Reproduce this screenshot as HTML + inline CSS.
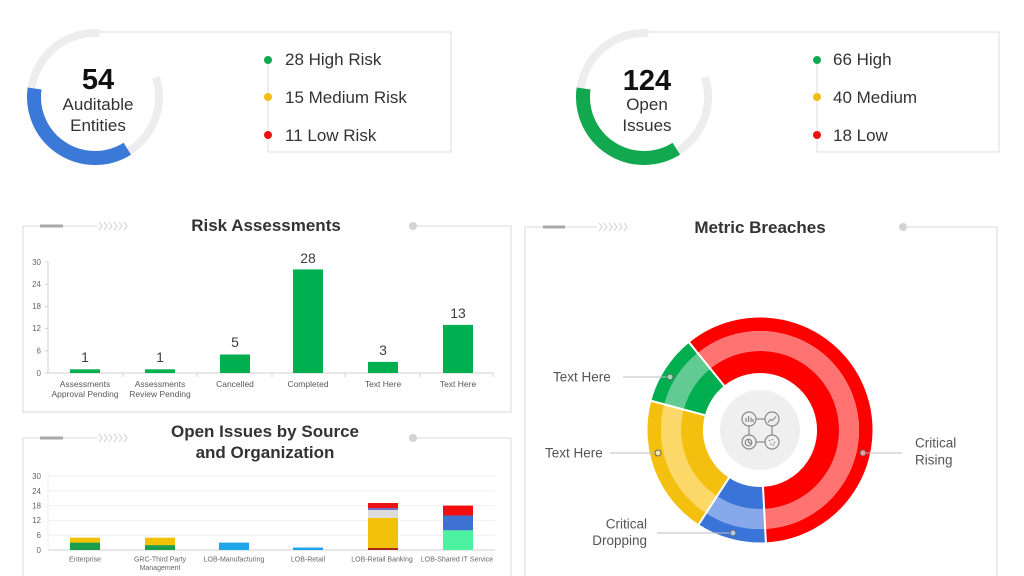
<!DOCTYPE html>
<html>
<head>
<meta charset="utf-8">
<style>
html,body{margin:0;padding:0;background:#fff;}
svg{display:block;font-family:"Liberation Sans",Arial,sans-serif;}
</style>
</head>
<body>
<svg width="1024" height="576" viewBox="0 0 1024 576" xmlns="http://www.w3.org/2000/svg">
<rect width="1024" height="576" fill="#fff"/>

<!-- ===== Gauge 1 ===== -->
<path d="M155.87 77.22 A64 64 0 1 1 99.47 33.15" fill="none" stroke="#ededed" stroke-width="8"/>
<path d="M127.32 148.73 A61 61 0 0 1 34.59 88.51" fill="none" stroke="#3b79d8" stroke-width="14"/>
<polyline points="99.5,32 451,32 451,152 268,152 268,60" fill="none" stroke="#dcdcdc" stroke-width="1"/>
<text x="98" y="89" text-anchor="middle" font-size="29" font-weight="bold" fill="#111">54</text>
<text x="98" y="110" text-anchor="middle" font-size="17" fill="#333">Auditable</text>
<text x="98" y="131" text-anchor="middle" font-size="17" fill="#333">Entities</text>
<circle cx="268" cy="60" r="4" fill="#12a84f"/>
<circle cx="268" cy="97" r="4" fill="#f5bd12"/>
<circle cx="268" cy="135" r="4" fill="#ee1111"/>
<text x="285" y="65" font-size="17" fill="#333">28 High Risk</text>
<text x="285" y="103" font-size="17" fill="#333">15 Medium Risk</text>
<text x="285" y="141" font-size="17" fill="#333">11 Low Risk</text>

<!-- ===== Gauge 2 ===== -->
<path d="M704.87 77.22 A64 64 0 1 1 648.47 33.15" fill="none" stroke="#ededed" stroke-width="8"/>
<path d="M676.32 148.73 A61 61 0 0 1 583.59 88.51" fill="none" stroke="#12a84f" stroke-width="14"/>
<polyline points="648.5,32 999,32 999,152 817,152 817,60" fill="none" stroke="#dcdcdc" stroke-width="1"/>
<text x="647" y="90" text-anchor="middle" font-size="29" font-weight="bold" fill="#111">124</text>
<text x="647" y="110" text-anchor="middle" font-size="17" fill="#333">Open</text>
<text x="647" y="131" text-anchor="middle" font-size="17" fill="#333">Issues</text>
<circle cx="817" cy="60" r="4" fill="#12a84f"/>
<circle cx="817" cy="97" r="4" fill="#f5bd12"/>
<circle cx="817" cy="135" r="4" fill="#ee1111"/>
<text x="833" y="65" font-size="17" fill="#333">66 High</text>
<text x="833" y="103" font-size="17" fill="#333">40 Medium</text>
<text x="833" y="141" font-size="17" fill="#333">18 Low</text>

<!-- ===== Panel 1: Risk Assessments ===== -->
<g stroke="#d9d9d9" fill="none" stroke-width="1">
  <polyline points="97,226 23,226 23,412 511,412 511,226 413,226"/>
</g>
<line x1="40" y1="226" x2="63" y2="226" stroke="#a9a9a9" stroke-width="3"/>
<g stroke="#cfcfcf" fill="none" stroke-width="1">
  <polyline points="99,222 102,226 99,230"/>
  <polyline points="104,222 107,226 104,230"/>
  <polyline points="109,222 112,226 109,230"/>
  <polyline points="114,222 117,226 114,230"/>
  <polyline points="119,222 122,226 119,230"/>
  <polyline points="124,222 127,226 124,230"/>
</g>
<circle cx="413" cy="226" r="4" fill="#d4d4d4"/>
<text x="266" y="231" text-anchor="middle" font-size="17" font-weight="bold" fill="#333">Risk Assessments</text>

<!-- axes chart1 -->
<g stroke="#d0d0d0" stroke-width="1">
  <line x1="48" y1="262" x2="48" y2="373"/>
  <line x1="48" y1="373" x2="493" y2="373"/>
  <line x1="45" y1="262" x2="48" y2="262"/>
  <line x1="45" y1="284.2" x2="48" y2="284.2"/>
  <line x1="45" y1="306.4" x2="48" y2="306.4"/>
  <line x1="45" y1="328.6" x2="48" y2="328.6"/>
  <line x1="45" y1="350.8" x2="48" y2="350.8"/>
  <line x1="45" y1="373" x2="48" y2="373"/>
  <line x1="123" y1="373" x2="123" y2="377"/>
  <line x1="197" y1="373" x2="197" y2="377"/>
  <line x1="272" y1="373" x2="272" y2="377"/>
  <line x1="345" y1="373" x2="345" y2="377"/>
  <line x1="420" y1="373" x2="420" y2="377"/>
  <line x1="493" y1="373" x2="493" y2="377"/>
</g>
<g font-size="8" fill="#666" text-anchor="end">
  <text x="41" y="265">30</text>
  <text x="41" y="287">24</text>
  <text x="41" y="309">18</text>
  <text x="41" y="331">12</text>
  <text x="41" y="353.5">6</text>
  <text x="41" y="376">0</text>
</g>
<g fill="#00b050">
  <rect x="70" y="369.3" width="30" height="3.7"/>
  <rect x="145" y="369.3" width="30" height="3.7"/>
  <rect x="220" y="354.5" width="30" height="18.5"/>
  <rect x="293" y="269.4" width="30" height="103.6"/>
  <rect x="368" y="361.9" width="30" height="11.1"/>
  <rect x="443" y="324.9" width="30" height="48.1"/>
</g>
<g font-size="14" fill="#404040" text-anchor="middle">
  <text x="85" y="362">1</text>
  <text x="160" y="362">1</text>
  <text x="235" y="347">5</text>
  <text x="308" y="263">28</text>
  <text x="383" y="355">3</text>
  <text x="458" y="318">13</text>
</g>
<g font-size="8.5" fill="#595959" text-anchor="middle">
  <text x="85" y="387">Assessments</text>
  <text x="85" y="397">Approval Pending</text>
  <text x="160" y="387">Assessments</text>
  <text x="160" y="397">Review Pending</text>
  <text x="235" y="387">Cancelled</text>
  <text x="308" y="387">Completed</text>
  <text x="383" y="387">Text Here</text>
  <text x="458" y="387">Text Here</text>
</g>

<!-- ===== Panel 2: Open Issues ===== -->
<g stroke="#d9d9d9" fill="none" stroke-width="1">
  <polyline points="97,438 23,438 23,576"/>
  <polyline points="413,438 511,438 511,576"/>
</g>
<line x1="40" y1="438" x2="63" y2="438" stroke="#a9a9a9" stroke-width="3"/>
<g stroke="#cfcfcf" fill="none" stroke-width="1">
  <polyline points="99,434 102,438 99,442"/>
  <polyline points="104,434 107,438 104,442"/>
  <polyline points="109,434 112,438 109,442"/>
  <polyline points="114,434 117,438 114,442"/>
  <polyline points="119,434 122,438 119,442"/>
  <polyline points="124,434 127,438 124,442"/>
</g>
<circle cx="413" cy="438" r="4" fill="#d4d4d4"/>
<text x="265" y="437" text-anchor="middle" font-size="17" font-weight="bold" fill="#333">Open Issues by Source</text>
<text x="265" y="458" text-anchor="middle" font-size="17" font-weight="bold" fill="#333">and Organization</text>

<g stroke="#efefef" stroke-width="1">
  <line x1="48" y1="476" x2="495" y2="476"/>
  <line x1="48" y1="490.8" x2="495" y2="490.8"/>
  <line x1="48" y1="505.6" x2="495" y2="505.6"/>
  <line x1="48" y1="520.4" x2="495" y2="520.4"/>
  <line x1="48" y1="535.2" x2="495" y2="535.2"/>
  <line x1="48" y1="476" x2="48" y2="550"/>
</g>
<line x1="48" y1="550" x2="495" y2="550" stroke="#d0d0d0" stroke-width="1"/>
<g font-size="8" fill="#666" text-anchor="end">
  <text x="41" y="479">30</text>
  <text x="41" y="494">24</text>
  <text x="41" y="508.5">18</text>
  <text x="41" y="523">12</text>
  <text x="41" y="538">6</text>
  <text x="41" y="553">0</text>
</g>
<!-- Enterprise -->
<rect x="70" y="542.6" width="30" height="7.4" fill="#1a9e4b"/>
<rect x="70" y="537.7" width="30" height="4.9" fill="#f2c200"/>
<!-- GRC -->
<rect x="145" y="545.1" width="30" height="4.9" fill="#1a9e4b"/>
<rect x="145" y="537.7" width="30" height="7.4" fill="#f2c200"/>
<!-- Manufacturing -->
<rect x="219" y="542.6" width="30" height="7.4" fill="#1ea5ea"/>
<!-- Retail -->
<rect x="293" y="547.5" width="30" height="2.5" fill="#1ea5ea"/>
<!-- Retail Banking -->
<rect x="368" y="548" width="30" height="2" fill="#a52a1a"/>
<rect x="368" y="518" width="30" height="30" fill="#f3c10a"/>
<rect x="368" y="510" width="30" height="8" fill="#dcdcdc"/>
<rect x="368" y="508" width="30" height="2" fill="#6f6fc6"/>
<rect x="368" y="503" width="30" height="5" fill="#ee1111"/>
<!-- Shared IT -->
<rect x="443" y="530.3" width="30" height="19.7" fill="#4df2a0"/>
<rect x="443" y="515.5" width="30" height="14.8" fill="#3e72d2"/>
<rect x="443" y="505.6" width="30" height="9.9" fill="#f20e0e"/>
<g font-size="7" fill="#666" text-anchor="middle">
  <text x="85" y="561.5">Enterprise</text>
  <text x="160" y="561.5">GRC-Third Party</text>
  <text x="160" y="570">Management</text>
  <text x="234" y="561.5">LOB-Manufacturing</text>
  <text x="308" y="561.5">LOB-Retail</text>
  <text x="382" y="561.5">LOB-Retail Banking</text>
  <text x="457" y="561.5">LOB-Shared IT Service</text>
</g>

<!-- ===== Panel 3: Metric Breaches ===== -->
<g stroke="#d9d9d9" fill="none" stroke-width="1">
  <polyline points="597,227 525,227 525,576"/>
  <polyline points="903,227 997,227 997,576"/>
</g>
<line x1="543" y1="227" x2="565" y2="227" stroke="#a9a9a9" stroke-width="3"/>
<g stroke="#cfcfcf" fill="none" stroke-width="1">
  <polyline points="599,223 602,227 599,231"/>
  <polyline points="604,223 607,227 604,231"/>
  <polyline points="609,223 612,227 609,231"/>
  <polyline points="614,223 617,227 614,231"/>
  <polyline points="619,223 622,227 619,231"/>
  <polyline points="624,223 627,227 624,231"/>
</g>
<circle cx="903" cy="227" r="4" fill="#d4d4d4"/>
<text x="760" y="233" text-anchor="middle" font-size="17" font-weight="bold" fill="#333">Metric Breaches</text>

<!-- donut -->
<g fill="none">
  <!-- red -->
  <path d="M693.45 347.82 A105.75 105.75 0 1 1 765.53 535.61" stroke="#fe0000" stroke-width="13.5"/>
  <path d="M703.99 360.84 A89 89 0 1 1 764.65 518.88" stroke="#ff7373" stroke-width="20"/>
  <path d="M717.21 377.16 A68 68 0 1 1 763.56 497.90" stroke="#fe0000" stroke-width="22"/>
  <!-- blue -->
  <path d="M765.53 535.61 A105.75 105.75 0 0 1 702.41 518.69" stroke="#3a74d8" stroke-width="13.5"/>
  <path d="M764.65 518.88 A89 89 0 0 1 711.53 504.64" stroke="#88a9e9" stroke-width="20"/>
  <path d="M763.56 497.90 A68 68 0 0 1 722.97 487.03" stroke="#3a74d8" stroke-width="22"/>
  <!-- yellow -->
  <path d="M702.41 518.69 A105.75 105.75 0 0 1 657.86 402.63" stroke="#f4c010" stroke-width="13.5"/>
  <path d="M711.53 504.64 A89 89 0 0 1 674.03 406.97" stroke="#fbd868" stroke-width="20"/>
  <path d="M722.97 487.03 A68 68 0 0 1 694.32 412.40" stroke="#f4c010" stroke-width="22"/>
  <!-- green -->
  <path d="M657.86 402.63 A105.75 105.75 0 0 1 693.45 347.82" stroke="#00ae4f" stroke-width="13.5"/>
  <path d="M674.03 406.97 A89 89 0 0 1 703.99 360.84" stroke="#62ca93" stroke-width="20"/>
  <path d="M694.32 412.40 A68 68 0 0 1 717.21 377.16" stroke="#00ae4f" stroke-width="22"/>
</g>
<g stroke="#fff" stroke-width="2">
  <line x1="724.76" y1="386.48" x2="688.89" y2="342.19"/>
  <line x1="762.93" y1="485.92" x2="765.91" y2="542.84"/>
  <line x1="729.50" y1="476.97" x2="698.46" y2="524.77"/>
  <line x1="705.91" y1="415.51" x2="650.85" y2="400.76"/>
</g>
<circle cx="760" cy="430" r="40" fill="#efefef"/>

<!-- icon -->
<g stroke="#8a8a8a" stroke-width="1.2" fill="none">
  <circle cx="749" cy="419" r="7"/>
  <circle cx="772" cy="419" r="7"/>
  <circle cx="749" cy="442" r="7"/>
  <circle cx="772" cy="442" r="7"/>
  <line x1="756" y1="419" x2="765" y2="419"/>
  <line x1="756" y1="442" x2="765" y2="442"/>
  <line x1="749" y1="426" x2="749" y2="435"/>
  <line x1="772" y1="426" x2="772" y2="435"/>
  <line x1="746" y1="422" x2="746" y2="418"/>
  <line x1="748.5" y1="422" x2="748.5" y2="416"/>
  <line x1="751" y1="422" x2="751" y2="417.5"/>
  <line x1="753" y1="422" x2="753" y2="419"/>
  <polyline points="768,422.5 770.5,419.5 772.5,420.5 776,416.5"/>
  <circle cx="748.5" cy="442.5" r="3.3"/>
  <path d="M748.5 442.5 L748.5 439.2 M748.5 442.5 L751.5 443.5"/>
</g>
<g fill="#8a8a8a">
  <circle cx="769.5" cy="440.5" r="0.8"/>
  <circle cx="772.5" cy="439.5" r="0.8"/>
  <circle cx="774.5" cy="442.5" r="0.8"/>
  <circle cx="771" cy="444" r="0.8"/>
  <circle cx="773.5" cy="445" r="0.8"/>
</g>

<!-- connectors & labels -->
<g stroke="#bdbdbd" stroke-width="1">
  <line x1="623" y1="377" x2="667" y2="377"/>
  <line x1="610" y1="453" x2="655" y2="453"/>
  <line x1="657" y1="533" x2="730" y2="533"/>
  <line x1="866" y1="453" x2="902" y2="453"/>
</g>
<g stroke="#666" stroke-width="1" fill="#fff" fill-opacity="0.6">
  <circle cx="670" cy="377" r="3"/>
  <circle cx="658" cy="453" r="3"/>
  <circle cx="733" cy="533" r="3"/>
  <circle cx="863" cy="453" r="3"/>
</g>
<g font-size="13.5" fill="#555">
  <text x="553" y="381.5">Text Here</text>
  <text x="545" y="457.5">Text Here</text>
  <text x="647" y="528.5" text-anchor="end">Critical</text>
  <text x="647" y="545" text-anchor="end">Dropping</text>
  <text x="915" y="447.5">Critical</text>
  <text x="915" y="464.5">Rising</text>
</g>
</svg>
</body>
</html>
